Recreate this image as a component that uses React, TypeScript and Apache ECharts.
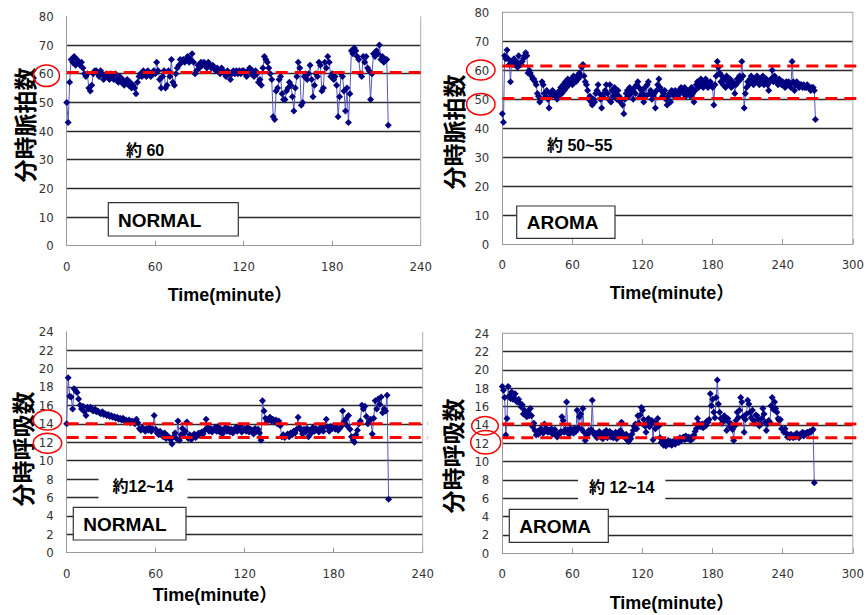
import React, { useEffect, useRef } from "react";
import * as echarts from "echarts";

// sampling interval of the series (minutes)
const STEP_MIN = 1;

// 分時脈拍数 NORMAL (t = 0, 1, 2, ... min)
const pulseNormal = [
  50, 43, 57, 65, 64, 66, 63, 65, 64, 63,
  64, 62, 60, 59, 60, 55, 54, 56, 60, 61,
  61, 60, 59, 61, 60, 58, 59, 60, 59, 58,
  60, 59, 58, 60, 58, 57, 59, 57, 58, 56,
  57, 58, 56, 57, 55, 56, 55, 53, 57, 59,
  60, 59, 61, 60, 59, 61, 60, 59, 60, 61,
  60, 64, 61, 58, 55, 59, 61, 55, 56, 61,
  59, 65, 57, 56, 60, 62, 63, 65, 64, 65,
  64, 65, 66, 64, 65, 67, 64, 60, 61, 63,
  62, 64, 63, 64, 63, 62, 64, 63, 62, 63,
  62, 61, 62, 61, 60, 62, 61, 60, 59, 61,
  60, 58, 60, 61, 60, 61, 60, 61, 60, 61,
  61, 60, 59, 61, 62, 60, 61, 59, 61, 60,
  57, 58, 56, 62, 66, 65, 64, 62, 60, 58,
  45, 44, 54, 55, 58, 59, 53, 51, 51, 54,
  55, 57, 56, 52, 47, 55, 59, 64, 62, 49,
  50, 59, 60, 58, 60, 63, 58, 52, 56, 60,
  59, 64, 63, 54, 55, 64, 62, 66, 64, 59,
  60, 58, 59, 56, 45, 52, 60, 59, 54, 47,
  55, 43, 53, 68, 67, 69, 68, 66, 65, 60,
  59, 66, 64, 66, 62, 61, 51, 60, 67, 66,
  68, 67, 70, 65, 66, 64, 65, 65, 42,
];

// 分時脈拍数 AROMA
const pulseAroma = [
  45, 42, 65, 64, 67, 64, 62, 56, 63, 62,
  64, 62, 63, 61, 65, 62, 62, 63, 64, 65,
  66, 65, 59, 60, 59, 58, 57, 57, 56, 55,
  52, 51, 49, 50, 56, 55, 52, 51, 53, 50,
  47, 52, 51, 53, 52, 51, 52, 50, 51, 53,
  54, 52, 55, 53, 56, 54, 57, 55, 56, 57,
  55, 58, 57, 56, 58, 57, 59, 58, 61, 62,
  58, 56, 55, 53, 50, 51, 49, 48, 50, 49,
  52, 53, 55, 52, 50, 47, 51, 52, 53, 55,
  52, 50, 55, 49, 53, 51, 54, 52, 50, 53,
  51, 49, 50, 48, 45, 50, 52, 53, 51, 54,
  52, 53, 50, 54, 52, 55, 56, 54, 51, 53,
  52, 49, 54, 51, 55, 56, 52, 53, 50, 51,
  52, 47, 53, 55, 57, 54, 53, 51, 52, 53,
  50, 48, 51, 52, 49, 53, 52, 51, 53, 52,
  51, 53, 52, 54, 53, 52, 54, 51, 53, 52,
  53, 51, 54, 52, 49, 53, 55, 56, 54, 55,
  57, 56, 54, 55, 57, 56, 54, 55, 56, 55,
  54, 48, 55, 58, 63, 61, 59, 56, 58, 55,
  57, 54, 58, 56, 55, 57, 54, 56, 55, 52,
  55, 57, 56, 58, 57, 63, 58, 47, 52, 54,
  56, 55, 57, 58, 56, 55, 57, 56, 58, 57,
  55, 57, 56, 58, 55, 56, 57, 55, 53, 56,
  57, 60, 56, 58, 57, 56, 55, 57, 56, 55,
  56, 55, 54, 56, 55, 56, 55, 54, 63, 56,
  53, 55, 56, 55, 54, 55, 55, 54, 55, 54,
  54, 55, 54, 54, 53, 54, 54, 53, 43,
];

// 分時呼吸数 NORMAL
const respNormal = [
  14, 19, 17, 16.9, 15.6, 17.8, 17.6, 17.4, 16.7, 16,
  15.6, 15.9, 15.3, 14.9, 15.8, 15.6, 15.8, 15.5, 15.4, 15.6,
  15.3, 15.4, 15.2, 15.1, 15.3, 15.0, 15.1, 14.9, 15.0, 14.8,
  14.9, 14.7, 14.8, 14.6, 14.7, 14.5, 14.6, 14.4, 14.6, 14.3,
  14.4, 14.2, 14.4, 14.1, 14.3, 14.2, 14.0, 14.5, 14.1, 13.5,
  13.3, 13.6, 13.4, 13.2, 13.5, 13.3, 13.6, 13.2, 13.4, 14.9,
  13.4, 13.0, 12.8, 13.2, 12.9, 12.6, 13.0, 12.4, 12.7, 12.5,
  12.3, 11.8, 12.6, 13.0, 12.4, 14.3, 12.2, 12.8, 13.5, 12.9,
  13.2, 14.2, 12.4, 12.8, 12.3, 12.6, 12.9, 12.5, 12.8, 13.0,
  12.7, 13.1, 12.9, 13.3, 14.5, 13.6, 13.2, 13.5, 13.1, 13.4,
  13.6, 13.2, 13.7, 13.1, 13.4, 12.9, 13.3, 13.6, 13.2, 13.5,
  13.1, 13.4, 13.0, 13.3, 13.6, 13.2, 13.4, 13.8, 13.1, 13.3,
  13.5, 13.2, 13.6, 13.1, 13.4, 13.3, 12.9, 13.5, 13.2, 13.4,
  13.0, 12.2, 16.5, 15.4, 14.6, 14.2, 14.4, 14.7, 14.3, 14.5,
  14.2, 14.4, 14.0, 14.3, 13.8, 12.6, 12.8, 12.5, 12.7, 12.9,
  12.6, 13.0, 12.8, 13.2, 13.0, 13.4, 14.7, 13.6, 13.3, 12.9,
  13.4, 13.1, 13.5, 12.6, 13.3, 13.0, 13.6, 13.2, 13.5, 13.3,
  13.1, 13.6, 13.4, 13.2, 13.8, 14.5, 13.6, 13.2, 13.7, 13.5,
  13.8, 13.4, 13.6, 13.3, 13.5, 13.7, 15.4, 14.2, 14.5, 13.8,
  14.9, 13.4, 12.6, 12.2, 12.0, 12.8, 13.3, 14.0, 14.3, 16.0,
  15.6, 15.9, 14.8, 14.0, 14.3, 14.5, 12.9, 14.6, 16.5, 15.6,
  16.7, 16.1, 16.9, 15.2, 15.6, 15.4, 17.1, 5.8,
];

// 分時呼吸数 AROMA
const respAroma = [
  18.2, 17.8, 17.0, 12.9, 14.7, 18.2, 17.2, 16.9, 17.6, 16.8,
  17.0, 17.4, 16.6, 16.5, 16.8, 16.4, 16.0, 16.2, 15.2, 15.6,
  15.1, 14.9, 15.4, 15.0, 15.8, 15.0, 13.8, 14.2, 13.4, 12.9,
  13.3, 13.0, 13.2, 13.6, 13.4, 13.1, 14.1, 13.5, 13.6, 13.2,
  13.4, 13.3, 13.6, 13.0, 13.2, 13.5, 12.9, 12.7, 13.1, 13.0,
  13.3, 14.9, 14.5, 13.2, 13.5, 16.5, 13.4, 13.0, 13.6, 13.2,
  13.5, 13.1, 13.6, 13.3, 15.6, 13.7, 14.9, 15.2, 13.5, 15.8,
  13.2, 12.3, 12.8, 13.0, 13.4, 13.2, 13.5, 16.7, 13.2, 12.9,
  13.1, 12.6, 12.9, 13.3, 12.7, 13.0, 12.5, 13.2, 12.8, 13.4,
  12.6, 12.9, 13.3, 12.7, 13.1, 12.6, 12.9, 13.2, 12.5, 12.8,
  13.0, 13.4, 14.3, 13.1, 12.8, 12.6, 13.0, 12.4, 12.2, 12.7,
  12.5, 13.0, 13.4, 13.8, 14.1, 13.6, 15.0, 14.2, 15.1, 15.9,
  15.6, 14.6, 13.9, 13.2, 14.2, 14.7, 13.8, 14.1, 14.5, 12.4,
  14.3, 13.6, 14.1, 14.7, 13.9, 12.6, 12.1, 12.4, 11.8, 12.2,
  11.7, 12.0, 12.3, 11.9, 12.2, 11.8, 12.1, 12.3, 11.9, 12.2,
  12.4, 12.1, 12.6, 12.3, 12.5, 12.7, 12.4, 12.8, 12.5, 12.7,
  12.6, 12.3, 12.7, 12.5, 12.9, 13.3, 13.6, 14.7, 14.2, 13.9,
  13.8, 14.1, 13.7, 14.1, 13.9, 14.4, 14.3, 14.6, 17.4, 16.1,
  16.8, 15.4, 14.8, 17.0, 18.9, 16.3, 15.4, 14.7, 14.2, 14.4,
  15.0, 14.6, 13.4, 14.7, 14.3, 13.8, 14.1, 13.5, 12.3, 13.9,
  14.5, 15.4, 14.8, 15.6, 17.0, 16.5, 14.9, 13.2, 14.6, 15.2,
  16.7, 16.3, 15.4, 14.8, 15.6, 14.5, 14.2, 15.1, 15.0, 14.6,
  13.9, 14.1, 14.7, 15.8, 15.2, 14.3, 13.4, 14.1, 14.5, 14.3,
  16.1, 17.0, 15.7, 16.5, 15.8, 15.4, 14.7, 14.5, 14.6, 13.6,
  13.5, 13.2, 13.6, 13.1, 12.7, 12.9, 12.6, 13.0, 12.8, 12.6,
  12.9, 12.7, 13.1, 12.8, 12.6, 13.0, 12.9, 13.2, 12.8, 13.1,
  13.0, 13.2, 13.1, 13.3, 13.2, 13.4, 13.5, 7.7,
];

// dashed reference levels
const pulseNormalRef = [60.4];
const pulseAromaRef = [61.5, 50.2];
const respNormalRef = [14.0, 12.5];
const respAromaRef = [14.1, 12.6];

// axes
const xMaxes = [240, 300, 240, 300];
const xInterval = 60;
const yMaxes = [80, 80, 24, 24];
const yIntervals = [10, 10, 2, 2];

const titlesY = ["分時脈拍数", "分時脈拍数", "分時呼吸数", "分時呼吸数"];
const titleX = "Time(minute）";
const groupLabels = ["NORMAL", "AROMA", "NORMAL", "AROMA"];
const approxLabels = ["約 60", "約 50~55", "約12~14", "約 12~14"];

const TICK_FONT = "'Liberation Sans Narrow', 'DejaVu Sans Condensed', 'Arial Narrow', 'Liberation Sans', sans-serif";
const BOLD_FONT = "'Liberation Sans', Arial, 'Noto Sans CJK JP', sans-serif";
const JP_FONT = "'Noto Sans CJK JP', 'Noto Sans CJK SC', sans-serif";

const toPairs = (vals: number[]) => vals.map((v, i) => [i * STEP_MIN, v]);

const grids = [
  { left: 66.7, top: 16.4, width: 354, height: 229.3 },
  { left: 502.3, top: 12.3, width: 356, height: 231.7 },
  { left: 66.7, top: 331.7, width: 356, height: 221 },
  { left: 502.3, top: 333.3, width: 355, height: 220 },
];
const dashEndX = [243.6, 302.9, 243.6, 303.7];
const topBorder = [false, true, false, true];

export default function App() {
  const ref = useRef<HTMLDivElement>(null);
  useEffect(() => {
    if (!ref.current) return;
    const chart = echarts.init(ref.current, null, { renderer: "svg" });
    const seriesData = [pulseNormal, pulseAroma, respNormal, respAroma];
    const refs = [pulseNormalRef, pulseAromaRef, respNormalRef, respAromaRef];

    const xAxis = grids.map((_, i) => ({
      type: "value",
      gridIndex: i,
      min: 0,
      max: xMaxes[i],
      interval: xInterval,
      axisLine: { show: true, lineStyle: { color: "#999", width: 1 } },
      axisTick: { show: true, inside: true, length: 5, lineStyle: { color: "#999" } },
      splitLine: { show: false },
      axisLabel: { margin: 14, fontSize: 13, color: "#333", fontFamily: TICK_FONT },
    }));
    const yAxis = grids.map((_, i) => ({
      type: "value",
      gridIndex: i,
      min: 0,
      max: yMaxes[i],
      interval: yIntervals[i],
      axisLine: { show: true, lineStyle: { color: "#999", width: 1 } },
      axisTick: { show: false },
      splitLine: {
        show: true,
        showMinLine: false,
        showMaxLine: false,
        lineStyle: { color: "#2a2a2a", width: 1.3 },
      },
      axisLabel: { margin: 13, fontSize: 13, color: "#333", fontFamily: TICK_FONT },
    }));

    const series = seriesData.map((vals, i) => ({
      type: "line",
      xAxisIndex: i,
      yAxisIndex: i,
      data: toPairs(vals),
      symbol: "diamond",
      symbolSize: 7,
      showAllSymbol: true,
      itemStyle: { color: "#000080" },
      lineStyle: { color: "#5555c0", width: 1 },
      emphasis: { disabled: true },
      z: 3,
    }));

    chart.setOption({
      animation: false,
      backgroundColor: "#fff",
      grid: grids.map((g) => ({ ...g, containLabel: false })),
      xAxis,
      yAxis,
      series,
    });

    const yTitlePos = [
      [24, 125],
      [453, 132],
      [22, 449],
      [452, 456],
    ];
    const xTitlePos = [
      [230, 295],
      [672, 293],
      [215, 595],
      [672, 603],
    ];
    const ellipses = [
      [46.5, 75.8, 13, 10.8],
      [480.8, 70, 14.2, 10],
      [480.8, 104.2, 14.2, 10.8],
      [47.5, 420, 14.2, 10],
      [47.5, 443.3, 14.2, 10],
      [485, 425.8, 13.3, 9.2],
      [485.7, 442.3, 15, 11.7],
    ];
    const boxes = [
      [108.3, 202.7, 130, 33.3, 118, 220],
      [516.7, 206, 98.3, 32.3, 526.7, 222],
      [73.3, 507.3, 112.7, 32.7, 83.3, 524.5],
      [509.3, 509.3, 99, 33, 519.3, 526],
    ];
    const approxPos: any[] = [
      { x: 126, y: 150, align: "left", bg: null, pad: 0 },
      { x: 547, y: 145, align: "left", bg: null, pad: 0 },
      { x: 143, y: 486.5, align: "center", bg: "#fff", pad: [6, 14] },
      { x: 621.7, y: 487, align: "center", bg: "#fff", pad: [6, 11] },
    ];

    const graphic: any[] = [];
    // plot frame lines and dashed reference levels, positioned through the axes
    grids.forEach((_, i) => {
      const px = (x: number, y: number) => chart.convertToPixel({ gridIndex: i }, [x, y]) as number[];
      const r0 = px(xMaxes[i], 0);
      const r1 = px(xMaxes[i], yMaxes[i]);
      graphic.push({
        type: "line",
        z: 5,
        shape: { x1: r0[0], y1: r0[1], x2: r1[0], y2: r1[1] },
        style: { stroke: "#aaa", lineWidth: 1 },
      });
      if (topBorder[i]) {
        const t0 = px(0, yMaxes[i]);
        graphic.push({
          type: "line",
          z: 5,
          shape: { x1: t0[0], y1: t0[1], x2: r1[0], y2: r1[1] },
          style: { stroke: "#999", lineWidth: 1 },
        });
      }
      refs[i].forEach((v) => {
        const a = px(0, v);
        const b = px(dashEndX[i], v);
        graphic.push({
          type: "line",
          z: 50,
          shape: { x1: a[0], y1: a[1], x2: b[0], y2: b[1] },
          style: { stroke: "#ff0000", lineWidth: 3, lineDash: [12, 7] },
        });
      });
    });
    yTitlePos.forEach(([x, y], i) =>
      graphic.push({
        type: "text",
        x,
        y,
        rotation: Math.PI / 2,
        z: 100,
        style: {
          text: titlesY[i],
          fontSize: 23,
          fontWeight: "bold",
          fontFamily: JP_FONT,
          fill: "#000",
          align: "center",
          verticalAlign: "middle",
        },
      })
    );
    xTitlePos.forEach(([x, y]) =>
      graphic.push({
        type: "text",
        x,
        y,
        z: 100,
        style: {
          text: titleX,
          fontSize: 18,
          fontWeight: "bold",
          fontFamily: BOLD_FONT,
          fill: "#000",
          align: "center",
          verticalAlign: "middle",
        },
      })
    );
    ellipses.forEach(([cx, cy, rx, ry]) =>
      graphic.push({
        type: "ellipse",
        z: 100,
        shape: { cx, cy, rx, ry },
        style: { fill: "rgba(0,0,0,0)", stroke: "#ff0000", lineWidth: 1.5 },
      })
    );
    boxes.forEach(([x, y, w, h, tx, ty], i) => {
      graphic.push({
        type: "rect",
        z: 100,
        shape: { x, y, width: w, height: h },
        style: { fill: "#fff", stroke: "#333", lineWidth: 1.2 },
      });
      graphic.push({
        type: "text",
        x: tx,
        y: ty,
        z: 101,
        style: {
          text: groupLabels[i],
          fontSize: 19,
          fontWeight: "bold",
          fontFamily: BOLD_FONT,
          fill: "#000",
          align: "left",
          verticalAlign: "middle",
        },
      });
    });
    approxPos.forEach((p, i) =>
      graphic.push({
        type: "text",
        x: p.x,
        y: p.y,
        z: 100,
        style: {
          text: approxLabels[i],
          fontSize: 16,
          fontWeight: "bold",
          fontFamily: BOLD_FONT,
          fill: "#000",
          align: p.align,
          verticalAlign: "middle",
          backgroundColor: p.bg || undefined,
          padding: p.pad,
        },
      })
    );

    chart.setOption({ graphic });
    return () => chart.dispose();
  }, []);
  return (
    <div
      ref={ref}
      style={{ position: "absolute", left: 0, top: 0, width: 867, height: 615, background: "#fff" }}
    />
  );
}
